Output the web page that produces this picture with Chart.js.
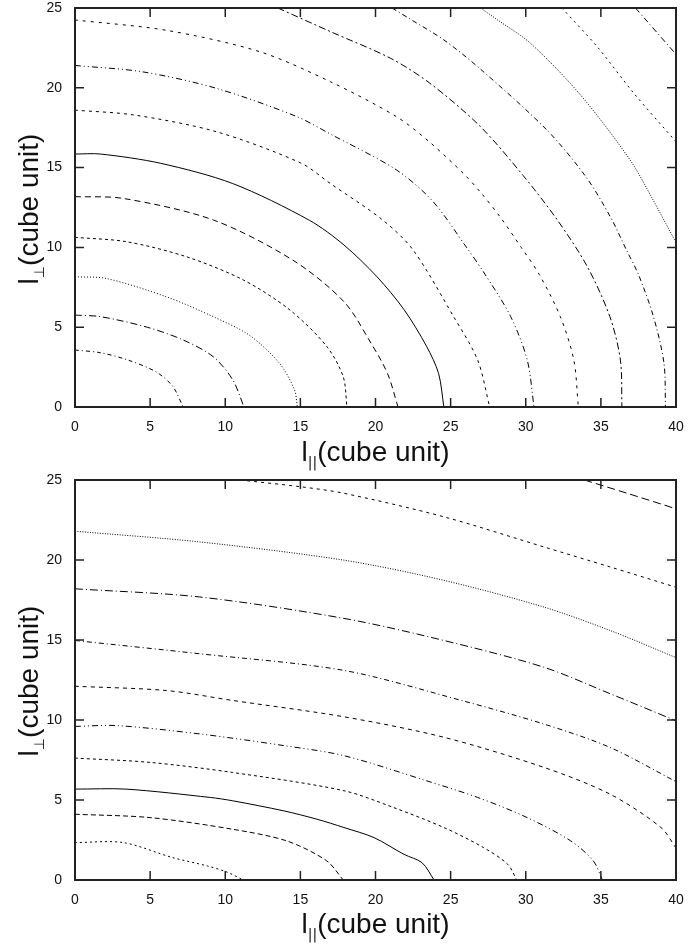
<!DOCTYPE html>
<html>
<head>
<meta charset="utf-8">
<script src="https://cdn.jsdelivr.net/npm/chart.js@4/dist/chart.umd.min.js"></script>
<style>
body { margin: 0; background: #fff; }
#page { position: relative; width: 688px; height: 945px; font-family: 'Liberation Sans', Arial, sans-serif; color: #111; }
canvas { position: absolute; left: 0; }
.xtitle { position: absolute; left: 75px; width: 601px; text-align: center; font-size: 28px; line-height: 32px; white-space: nowrap; }
.ytitle { position: absolute; width: 399px; text-align: center; font-size: 28px; line-height: 32px; white-space: nowrap; transform: rotate(-90deg); }
.sub { font-size: 0.5em; position: relative; top: 0.45em; font-family: 'DejaVu Sans', 'Liberation Sans', sans-serif; }
</style>
</head>
<body>
<div id="page">
  <canvas id="top" width="688" height="472" style="top:0"></canvas>
  <canvas id="bottom" width="688" height="473" style="top:472px"></canvas>
  <div class="xtitle" style="top:436px">l<span class="sub">||</span>(cube unit)</div>
  <div class="xtitle" style="top:908px">l<span class="sub">||</span>(cube unit)</div>
  <div class="ytitle" style="left:-169px; top:191px">l<span class="sub">⊥</span>(cube unit)</div>
  <div class="ytitle" style="left:-169px; top:663px">l<span class="sub">⊥</span>(cube unit)</div>
</div>
<script>
// axis ticks
var xTicks = [0, 5, 10, 15, 20, 25, 30, 35, 40];
var yTicks = [0, 5, 10, 15, 20, 25];

// upper panel contours, [l_par, l_perp]
var top1 = [[0, 3.57], [1.7, 3.4], [3.5, 2.95], [5.4, 2.2], [6.5, 1.3], [7.2, 0]];
var top2 = [[0, 5.76], [1.7, 5.66], [4.8, 5.0], [7.2, 4.2], [9.2, 3.15], [10.5, 1.7], [11.25, 0]];
var top3 = [[0, 8.16], [2.1, 8.05], [6.1, 6.9], [9.2, 5.66], [11.6, 4.5], [13.6, 2.75], [14.6, 1.1], [14.8, 0]];
var top4 = [[0, 10.63], [3.4, 10.36], [7.4, 9.42], [11.2, 7.96], [14.3, 6.08], [16.75, 3.8], [17.85, 1.9], [18.1, 0]];
var top5 = [[0, 13.18], [3.2, 13.07], [9.2, 11.72], [14.5, 9.2], [17.9, 6.6], [19.7, 4.0], [20.8, 2.1], [21.5, 0]];
var top6 = [[0, 15.85], [1.7, 15.85], [5.7, 15.27], [10.5, 14.0], [15.6, 11.7], [17.9, 10.15], [20.1, 8.16], [21.9, 6.1], [23.4, 3.8], [24.2, 2.1], [24.55, 0]];
var top7 = [[0, 18.6], [3.9, 18.3], [9.4, 17.25], [15.0, 15.3], [17.0, 14.0], [20.5, 11.7], [22.5, 9.84], [25.2, 5.66], [26.8, 2.94], [27.6, 0]];
var top8 = [[0, 21.4], [4.5, 21.0], [9.4, 19.97], [14.75, 18.2], [17.0, 17.1], [21.4, 14.85], [23.8, 12.9], [26.06, 10.0], [27.3, 8.3], [29.0, 5.66], [30.1, 2.94], [30.55, 0]];
var top9 = [[0, 24.25], [6.1, 23.6], [12.3, 22.26], [17.0, 20.38], [21.4, 18.19], [23.6, 16.6], [25.84, 14.64], [26.95, 13.5], [28.3, 11.9], [29.7, 10.0], [30.9, 8.3], [32.3, 5.66], [33.2, 2.94], [33.5, 0]];
var top10 = [[13.5, 25], [17.0, 23.52], [21.0, 21.85], [23.6, 20.3], [26.95, 17.6], [29.83, 14.5], [32.1, 11.72], [34.1, 8.79], [35.6, 5.66], [36.3, 2.94], [36.4, 0]];
var top11 = [[21.1, 25], [22.4, 24.25], [24.55, 23.0], [26.95, 21.2], [31.4, 17.36], [34.0, 14.43], [35.64, 11.9], [36.7, 9.84], [37.5, 8.3], [38.5, 5.66], [39.2, 2.74], [39.3, 0]];
var top12 = [[27.0, 25], [28.05, 24.3], [30.3, 22.8], [33.6, 19.6], [36.93, 15.5], [38.4, 13.1], [40, 10.3]];
var top13 = [[32.4, 25], [34.75, 22.58], [37.2, 19.65], [40, 16.62]];
var top14 = [[37.3, 25], [38.0, 24.25], [40, 22.1]];

// lower panel contours
var bot1 = [[0, 2.34], [3.2, 2.34], [6.5, 1.4], [8.8, 0.88], [10.1, 0.5], [11.2, 0]];
var bot2 = [[0, 4.11], [5, 3.9], [10.5, 3.17], [14.1, 2.44], [16.75, 1.2], [17.85, 0]];
var bot3 = [[0, 5.68], [3.4, 5.68], [9, 5.16], [10.5, 4.95], [13.9, 4.32], [16.1, 3.8], [17.9, 3.28], [19.9, 2.65], [21.9, 1.6], [23.1, 1.08], [23.9, 0]];
var bot4 = [[0, 7.62], [5, 7.35], [10.5, 6.72], [17.9, 5.58], [21.2, 4.53], [24.55, 3.28], [27.2, 2.02], [28.8, 0.98], [29.4, 0]];
var bot5 = [[0, 9.6], [2.8, 9.65], [8.3, 9.13], [13.9, 8.4], [17.9, 7.77], [23.4, 6.2], [26.8, 5.16], [30.1, 3.9], [33.0, 2.44], [34.5, 1.19], [35.1, 0]];
var bot6 = [[0, 12.11], [6.1, 11.84], [10.5, 11.22], [17.9, 10.2], [24.55, 8.92], [31.2, 7.04], [35.6, 5.37], [39.0, 3.28], [40, 2.0]];
var bot7 = [[0, 14.97], [8.3, 14.14], [17.9, 13.1], [25.8, 11.2], [31.2, 9.75], [35.6, 8.29], [40, 6.15]];
var bot8 = [[0, 18.2], [8.3, 17.69], [17.9, 16.35], [24.55, 14.97], [31.2, 13.3], [35.6, 11.65], [40, 9.95]];
var bot9 = [[0, 21.8], [8.3, 21.13], [17.9, 19.99], [24.55, 18.73], [31.2, 17.06], [35.6, 15.6], [40, 13.9]];
var bot10 = [[11.0, 25], [15.0, 24.58], [17.9, 24.17], [24.55, 22.7], [31.2, 20.82], [35.6, 19.57], [40, 18.3]];
var bot11 = [[33.9, 25], [36.75, 24.17], [40, 23.2]];

// line styles (gnuplot-like dash cycle)
var topDashes = [[4, 3, 1, 3], [7, 3, 1, 3], [1, 2], [3, 3], [6, 4], [], [3, 4], [6, 3, 1, 3, 1, 3], [3, 5], [7, 3, 2, 3], [5, 3, 1, 3], [1, 1.5], [2, 4], [6, 3, 1, 3]];
var botDashes = [[2, 3], [5, 3], [], [3, 3], [6, 3, 1, 3, 1, 3], [4, 4], [5, 3, 1, 3], [8, 3, 1, 3], [1, 1.5], [3, 4], [8, 4]];

Chart.defaults.font.family = "'Liberation Sans', Arial, sans-serif";
Chart.defaults.color = '#111';

// box around the plot with inward ticks on all four sides
var frame = {
  id: 'frame',
  afterDraw: function(chart) {
    var ctx = chart.ctx;
    var a = chart.chartArea;
    var xs = chart.scales.x;
    var ys = chart.scales.y;
    ctx.save();
    ctx.strokeStyle = '#222';
    ctx.lineWidth = 1.5;
    ctx.beginPath();
    xTicks.forEach(function(v) {
      var px = xs.getPixelForValue(v);
      ctx.moveTo(px, a.bottom);
      ctx.lineTo(px, a.bottom - 9);
      ctx.moveTo(px, a.top);
      ctx.lineTo(px, a.top + 9);
    });
    yTicks.forEach(function(v) {
      var py = ys.getPixelForValue(v);
      ctx.moveTo(a.left, py);
      ctx.lineTo(a.left + 9, py);
      ctx.moveTo(a.right, py);
      ctx.lineTo(a.right - 9, py);
    });
    ctx.stroke();
    ctx.lineWidth = 2;
    ctx.strokeRect(a.left, a.top, a.right - a.left, a.bottom - a.top);
    ctx.restore();
  }
};

function makeChart(id, lines, dashes) {
  var datasets = lines.map(function(pts, i) {
    return {
      data: pts.map(function(p) { return {x: p[0], y: p[1]}; }),
      showLine: true,
      pointRadius: 0,
      borderColor: '#000',
      borderWidth: 1,
      borderDash: dashes[i],
      tension: 0.3,
      fill: false
    };
  });
  return new Chart(document.getElementById(id), {
    type: 'scatter',
    data: {datasets: datasets},
    options: {
      responsive: false,
      animation: false,
      layout: {padding: {top: 8, right: 12, left: 0, bottom: 0}},
      plugins: {legend: {display: false}, tooltip: {enabled: false}},
      scales: {
        x: {
          min: 0, max: 40,
          afterBuildTicks: function(s) { s.ticks = xTicks.map(function(v) { return {value: v}; }); },
          ticks: {padding: 12, font: {size: 14}, maxRotation: 0},
          grid: {display: false, drawTicks: false},
          border: {display: false},
          afterFit: function(s) { s.height = 65; s.paddingLeft = 0; s.paddingRight = 8; }
        },
        y: {
          min: 0, max: 25,
          afterBuildTicks: function(s) { s.ticks = yTicks.map(function(v) { return {value: v}; }); },
          ticks: {padding: 13, font: {size: 14}},
          grid: {display: false, drawTicks: false},
          border: {display: false},
          afterFit: function(s) { s.width = 75; s.paddingTop = 8; s.paddingBottom = 0; }
        }
      }
    },
    plugins: [frame]
  });
}

makeChart('top', [top1, top2, top3, top4, top5, top6, top7, top8, top9, top10, top11, top12, top13, top14], topDashes);
makeChart('bottom', [bot1, bot2, bot3, bot4, bot5, bot6, bot7, bot8, bot9, bot10, bot11], botDashes);
</script>
</body>
</html>
